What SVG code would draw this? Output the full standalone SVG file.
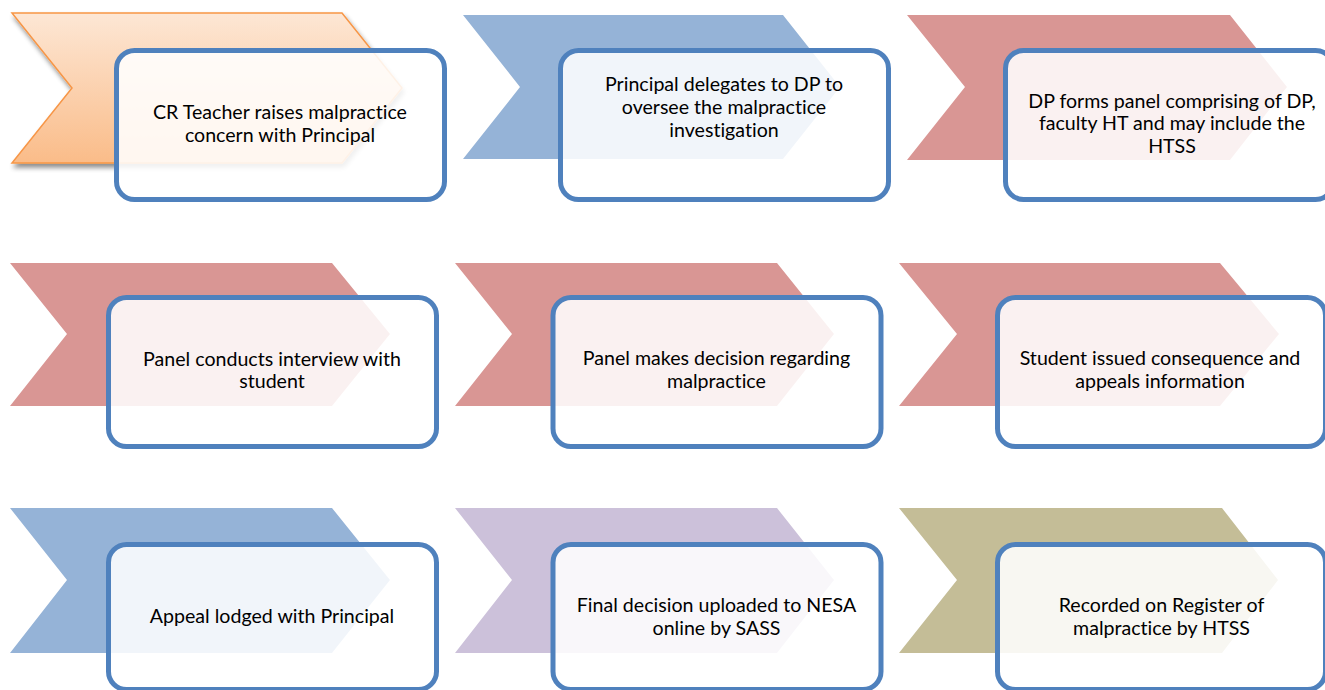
<svg xmlns="http://www.w3.org/2000/svg" width="1325" height="690" viewBox="0 0 1325 690">
<defs>
<linearGradient id="gOrange" x1="0" y1="0" x2="0" y2="1">
<stop offset="0" stop-color="#FDE7D5"/>
<stop offset="1" stop-color="#FABC89"/>
</linearGradient>
<filter id="shadow" x="-10%" y="-10%" width="130%" height="140%">
<feGaussianBlur in="SourceAlpha" stdDeviation="2.5"/>
<feOffset dx="2" dy="4" result="b"/>
<feComponentTransfer><feFuncA type="linear" slope="0.45"/></feComponentTransfer>
<feMerge><feMergeNode/><feMergeNode in="SourceGraphic"/></feMerge>
</filter>
</defs>
<style>
.box{fill:#FFFFFF;fill-opacity:0.87;stroke:#4F81BD;stroke-width:5}
.t{font-family:Lato,"Open Sans","Liberation Sans",sans-serif;font-size:19.6px;fill:#000000;text-anchor:middle;font-variant-ligatures:none}
.blue{fill:#95B3D7}
.red{fill:#D99694}
.purple{fill:#CCC1DA}
.olive{fill:#C4BD97}
.orange{fill:url(#gOrange);stroke:#F79646;stroke-width:1.5}
</style>
<rect width="1325" height="690" fill="#FFFFFF"/>

<g id="step1">
<polygon class="orange" filter="url(#shadow)" points="12,13 342,13 402,88 342,163 12,163 72,88"/>
<rect class="box" x="116.5" y="50.5" width="328" height="149" rx="18"/>
<text class="t" x="280" y="119">CR Teacher raises malpractice</text>
<text class="t" x="280" y="142">concern with Principal</text>
</g>

<g id="step2">
<polygon class="blue" points="463,15 783,15 840,87 783,159 463,159 520,87"/>
<rect class="box" x="560.5" y="50.5" width="328" height="149" rx="18"/>
<text class="t" x="724" y="91">Principal delegates to DP to</text>
<text class="t" x="724" y="114">oversee the malpractice</text>
<text class="t" x="724" y="137">investigation</text>
</g>

<g id="step3">
<polygon class="red" points="907,15 1230,15 1287,87 1230,160 907,160 965,87"/>
<rect class="box" x="1005.5" y="50.5" width="328" height="149" rx="18"/>
<text class="t" x="1172" y="108">DP forms panel comprising of DP,</text>
<text class="t" x="1172" y="130">faculty HT and may include the</text>
<text class="t" x="1172" y="153">HTSS</text>
</g>

<g id="step4">
<polygon class="red" points="10,263 332,263 390,334 332,406 10,406 67,334"/>
<rect class="box" x="108.5" y="297.5" width="328" height="149" rx="18"/>
<text class="t" x="272" y="366">Panel conducts interview with</text>
<text class="t" x="272" y="388">student</text>
</g>

<g id="step5">
<polygon class="red" points="455,263 777,263 834,334 777,406 455,406 512,334"/>
<rect class="box" x="553" y="297.5" width="328" height="149" rx="18"/>
<text class="t" x="716.5" y="365">Panel makes decision regarding</text>
<text class="t" x="716.5" y="388">malpractice</text>
</g>

<g id="step6">
<polygon class="red" points="899,263 1220,263 1279,334 1220,406 899,406 957,334"/>
<rect class="box" x="997.5" y="297.5" width="328" height="149" rx="18"/>
<text class="t" x="1160" y="365">Student issued consequence and</text>
<text class="t" x="1160" y="388">appeals information</text>
</g>

<g id="step7">
<polygon class="blue" points="10,508 332,508 390,580 332,653 10,653 67,580"/>
<rect class="box" x="108.5" y="544.5" width="328" height="145" rx="18"/>
<text class="t" x="272" y="623">Appeal lodged with Principal</text>
</g>

<g id="step8">
<polygon class="purple" points="455,508 777,508 834,580 777,653 455,653 512,580"/>
<rect class="box" x="553" y="544.5" width="328" height="145" rx="18"/>
<text class="t" x="716.5" y="612">Final decision uploaded to NESA</text>
<text class="t" x="716.5" y="635">online by SASS</text>
</g>

<g id="step9">
<polygon class="olive" points="899,508 1222,508 1278,580 1222,653 899,653 957,580"/>
<rect class="box" x="997.5" y="544.5" width="328" height="145" rx="18"/>
<text class="t" x="1161.5" y="612">Recorded on Register of</text>
<text class="t" x="1161.5" y="635">malpractice by HTSS</text>
</g>

<g id="connectors"></g>
</svg>
